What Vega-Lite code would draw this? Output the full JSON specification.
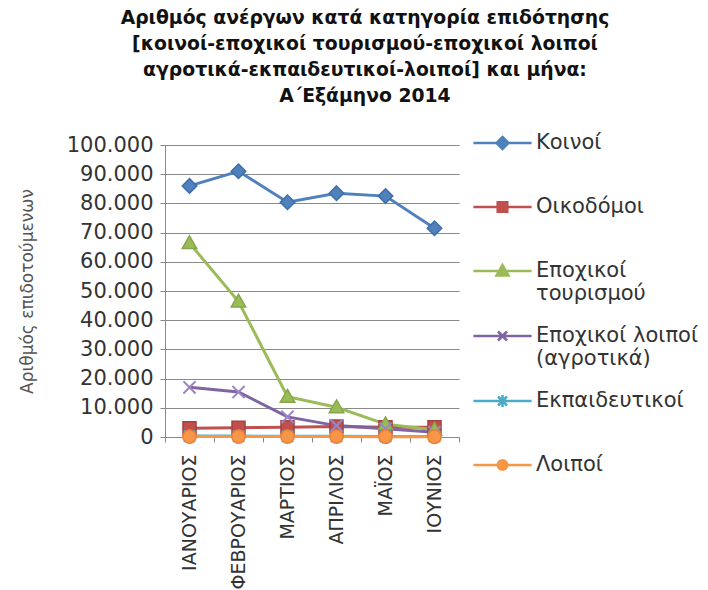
{
  "$schema": "https://vega.github.io/schema/vega-lite/v6.json",
  "autosize": "none",
  "width": 294,
  "height": 292,
  "padding": {"left": 165, "top": 145, "right": 249, "bottom": 153},
  "background": "white",
  "title": {
    "text": ["Αριθμός ανέργων κατά κατηγορία επιδότησης", "[κοινοί-εποχικοί τουρισμού-εποχικοί λοιποί", "αγροτικά-εκπαιδευτικοί-λοιποί] και μήνα:", "Α΄Εξάμηνο 2014"],
    "font": "DejaVu Sans",
    "fontSize": 18.8,
    "fontWeight": "bold",
    "lineHeight": 26,
    "color": "#111111",
    "anchor": "middle",
    "dx": 53,
    "offset": 5
  },
  "data": {
    "values": [
      {"month": "ΙΑΝΟΥΑΡΙΟΣ", "series": "Κοινοί", "value": 86000},
      {"month": "ΦΕΒΡΟΥΑΡΙΟΣ", "series": "Κοινοί", "value": 91000},
      {"month": "ΜΑΡΤΙΟΣ", "series": "Κοινοί", "value": 80400},
      {"month": "ΑΠΡΙΛΙΟΣ", "series": "Κοινοί", "value": 83500},
      {"month": "ΜΑΪΟΣ", "series": "Κοινοί", "value": 82500},
      {"month": "ΙΟΥΝΙΟΣ", "series": "Κοινοί", "value": 71500},
      {"month": "ΙΑΝΟΥΑΡΙΟΣ", "series": "Οικοδόμοι", "value": 3000},
      {"month": "ΦΕΒΡΟΥΑΡΙΟΣ", "series": "Οικοδόμοι", "value": 3200},
      {"month": "ΜΑΡΤΙΟΣ", "series": "Οικοδόμοι", "value": 3300},
      {"month": "ΑΠΡΙΛΙΟΣ", "series": "Οικοδόμοι", "value": 3600},
      {"month": "ΜΑΪΟΣ", "series": "Οικοδόμοι", "value": 3300},
      {"month": "ΙΟΥΝΙΟΣ", "series": "Οικοδόμοι", "value": 3300},
      {"month": "ΙΑΝΟΥΑΡΙΟΣ", "series": "Εποχικοί τουρισμού", "value": 66400},
      {"month": "ΦΕΒΡΟΥΑΡΙΟΣ", "series": "Εποχικοί τουρισμού", "value": 46400},
      {"month": "ΜΑΡΤΙΟΣ", "series": "Εποχικοί τουρισμού", "value": 13800},
      {"month": "ΑΠΡΙΛΙΟΣ", "series": "Εποχικοί τουρισμού", "value": 10200},
      {"month": "ΜΑΪΟΣ", "series": "Εποχικοί τουρισμού", "value": 4400},
      {"month": "ΙΟΥΝΙΟΣ", "series": "Εποχικοί τουρισμού", "value": 2500},
      {"month": "ΙΑΝΟΥΑΡΙΟΣ", "series": "Εποχικοί λοιποί (αγροτικά)", "value": 17000},
      {"month": "ΦΕΒΡΟΥΑΡΙΟΣ", "series": "Εποχικοί λοιποί (αγροτικά)", "value": 15400},
      {"month": "ΜΑΡΤΙΟΣ", "series": "Εποχικοί λοιποί (αγροτικά)", "value": 6900},
      {"month": "ΑΠΡΙΛΙΟΣ", "series": "Εποχικοί λοιποί (αγροτικά)", "value": 3900},
      {"month": "ΜΑΪΟΣ", "series": "Εποχικοί λοιποί (αγροτικά)", "value": 2800},
      {"month": "ΙΟΥΝΙΟΣ", "series": "Εποχικοί λοιποί (αγροτικά)", "value": 1600},
      {"month": "ΙΑΝΟΥΑΡΙΟΣ", "series": "Εκπαιδευτικοί", "value": 300},
      {"month": "ΦΕΒΡΟΥΑΡΙΟΣ", "series": "Εκπαιδευτικοί", "value": 300},
      {"month": "ΜΑΡΤΙΟΣ", "series": "Εκπαιδευτικοί", "value": 250},
      {"month": "ΑΠΡΙΛΙΟΣ", "series": "Εκπαιδευτικοί", "value": 250},
      {"month": "ΜΑΪΟΣ", "series": "Εκπαιδευτικοί", "value": 200},
      {"month": "ΙΟΥΝΙΟΣ", "series": "Εκπαιδευτικοί", "value": 200},
      {"month": "ΙΑΝΟΥΑΡΙΟΣ", "series": "Λοιποί", "value": 150},
      {"month": "ΦΕΒΡΟΥΑΡΙΟΣ", "series": "Λοιποί", "value": 150},
      {"month": "ΜΑΡΤΙΟΣ", "series": "Λοιποί", "value": 150},
      {"month": "ΑΠΡΙΛΙΟΣ", "series": "Λοιποί", "value": 150},
      {"month": "ΜΑΪΟΣ", "series": "Λοιποί", "value": 100},
      {"month": "ΙΟΥΝΙΟΣ", "series": "Λοιποί", "value": 100}
    ]
  },
  "encoding": {
    "x": {
      "field": "month",
      "type": "nominal",
      "sort": ["ΙΑΝΟΥΑΡΙΟΣ", "ΦΕΒΡΟΥΑΡΙΟΣ", "ΜΑΡΤΙΟΣ", "ΑΠΡΙΛΙΟΣ", "ΜΑΪΟΣ", "ΙΟΥΝΙΟΣ"],
      "bandPosition": 0.5,
      "scale": {"type": "band", "paddingInner": 0, "paddingOuter": 0},
      "axis": {
        "title": null,
        "labelAngle": -90,
        "labelAlign": "right",
        "labelBaseline": "middle",
        "labelFont": "DejaVu Sans",
        "labelFontSize": 19,
        "labelColor": "#333333",
        "labelPadding": 12,
        "tickBand": "extent",
        "tickSize": 5,
        "tickColor": "#888888",
        "domainColor": "#888888",
        "grid": false,
        "labelOverlap": false
      }
    },
    "y": {
      "field": "value",
      "type": "quantitative",
      "scale": {"domain": [0, 100000], "nice": false},
      "axis": {
        "title": "Αριθμός επιδοτούμενων",
        "titleFont": "DejaVu Sans",
        "titleFontSize": 17,
        "titleFontWeight": "normal",
        "titleColor": "#555555",
        "titlePadding": 30,
        "values": [0, 10000, 20000, 30000, 40000, 50000, 60000, 70000, 80000, 90000, 100000],
        "labelExpr": "replace(format(datum.value, ','), ',', '.')",
        "labelFont": "DejaVu Sans",
        "labelFontSize": 21,
        "labelColor": "#333333",
        "labelPadding": 7,
        "tickSize": 5,
        "tickColor": "#888888",
        "domainColor": "#888888",
        "grid": true,
        "gridColor": "#8a8a8a",
        "gridWidth": 1
      }
    }
  },
  "layer": [
    {
      "mark": {"type": "point", "filled": false, "opacity": 0, "strokeWidth": 2.5},
      "encoding": {
        "color": {
          "field": "series",
          "type": "nominal",
          "scale": {
            "domain": ["Κοινοί", "Οικοδόμοι", "Εποχικοί τουρισμού", "Εποχικοί λοιποί (αγροτικά)", "Εκπαιδευτικοί", "Λοιποί"],
            "range": ["#4F81BD", "#C0504D", "#9BBB59", "#8064A2", "#4BACC6", "#F79646"]
          },
          "legend": {
            "title": null,
            "orient": "none",
            "direction": "vertical",
            "legendX": 306,
            "legendY": -34,
            "padding": 0,
            "symbolSize": 3600,
            "symbolOffset": 0,
            "symbolStrokeWidth": 2.5,
            "symbolOpacity": 1,
            "clipHeight": 64,
            "rowPadding": 0,
            "labelFont": "DejaVu Sans",
            "labelFontSize": 21,
            "labelColor": "#333333",
            "labelLimit": 260,
            "labelOffset": 2,
            "labelExpr": "datum.label == 'Εποχικοί τουρισμού' ? ['Εποχικοί', 'τουρισμού'] : datum.label == 'Εποχικοί λοιποί (αγροτικά)' ? ['Εποχικοί λοιποί', '(αγροτικά)'] : datum.label"
          }
        },
        "shape": {
          "field": "series",
          "type": "nominal",
          "scale": {
            "domain": ["Κοινοί", "Οικοδόμοι", "Εποχικοί τουρισμού", "Εποχικοί λοιποί (αγροτικά)", "Εκπαιδευτικοί", "Λοιποί"],
            "range": [
              "M-0.97,0L0.97,0M0,-0.2L0.2,0L0,0.2L-0.2,0ZM0,-0.13L0.13,0L0,0.13L-0.13,0ZM0,-0.06L0.06,0L0,0.06L-0.06,0Z",
              "M-0.97,0L0.97,0M-0.16,-0.16L0.16,-0.16L0.16,0.16L-0.16,0.16ZM-0.09,-0.09L0.09,-0.09L0.09,0.09L-0.09,0.09ZM-0.03,-0.03L0.03,-0.03L0.03,0.03L-0.03,0.03Z",
              "M-0.97,0L0.97,0M0,-0.2L0.2,0.15L-0.2,0.15ZM0,-0.11L0.11,0.09L-0.11,0.09ZM0,-0.03L0.04,0.04L-0.04,0.04Z",
              "M-0.97,0L0.97,0M-0.15,-0.15L0.15,0.15M-0.15,0.15L0.15,-0.15",
              "M-0.97,0L0.97,0M-0.15,-0.15L0.15,0.15M-0.15,0.15L0.15,-0.15M0,-0.2L0,0.2",
              "M-0.97,0L0.97,0M-0.16,0A0.16,0.16,0,1,0,0.16,0A0.16,0.16,0,1,0,-0.16,0ZM-0.09,0A0.09,0.09,0,1,0,0.09,0A0.09,0.09,0,1,0,-0.09,0ZM-0.03,0A0.03,0.03,0,1,0,0.03,0A0.03,0.03,0,1,0,-0.03,0Z"
            ]
          }
        }
      }
    },
    {
      "mark": {"type": "line", "strokeWidth": 3},
      "encoding": {
        "color": {"field": "series", "type": "nominal"}
      }
    },
    {
      "transform": [{"filter": "datum.series == 'Κοινοί'"}],
      "mark": {"type": "point", "filled": true, "size": 210, "opacity": 1, "shape": "M0,-1L1,0L0,1L-1,0Z", "fill": "#4F81BD", "stroke": "#3f6fa8", "strokeWidth": 1.5},
      "encoding": {}
    },
    {
      "transform": [{"filter": "datum.series == 'Οικοδόμοι'"}],
      "mark": {"type": "point", "filled": true, "size": 210, "opacity": 1, "shape": "M-0.9,-0.9L0.9,-0.9L0.9,0.9L-0.9,0.9Z", "fill": "#C0504D", "stroke": "#a8403d", "strokeWidth": 1.5},
      "encoding": {}
    },
    {
      "transform": [{"filter": "datum.series == 'Εποχικοί τουρισμού'"}],
      "mark": {"type": "point", "filled": true, "size": 210, "opacity": 1, "shape": "M0,-1L1,0.75L-1,0.75Z", "fill": "#9BBB59", "stroke": "#86a64a", "strokeWidth": 1.5},
      "encoding": {}
    },
    {
      "transform": [{"filter": "datum.series == 'Εποχικοί λοιποί (αγροτικά)'"}],
      "mark": {"type": "point", "filled": false, "size": 230, "opacity": 1, "shape": "M-0.8,-0.8L0.8,0.8M-0.8,0.8L0.8,-0.8", "stroke": "#9b86c4", "strokeWidth": 2},
      "encoding": {}
    },
    {
      "transform": [{"filter": "datum.series == 'Εκπαιδευτικοί'"}],
      "mark": {"type": "point", "filled": false, "size": 200, "opacity": 1, "shape": "M-0.8,-0.8L0.8,0.8M-0.8,0.8L0.8,-0.8M0,-1L0,1", "stroke": "#4BACC6", "strokeWidth": 2},
      "encoding": {}
    },
    {
      "transform": [{"filter": "datum.series == 'Λοιποί'"}],
      "mark": {"type": "point", "filled": true, "size": 220, "opacity": 1, "shape": "M-0.9,0A0.9,0.9,0,1,0,0.9,0A0.9,0.9,0,1,0,-0.9,0Z", "fill": "#F79646", "stroke": "#e8823a", "strokeWidth": 1.5},
      "encoding": {}
    }
  ],
  "config": {
    "view": {"stroke": null}
  }
}
